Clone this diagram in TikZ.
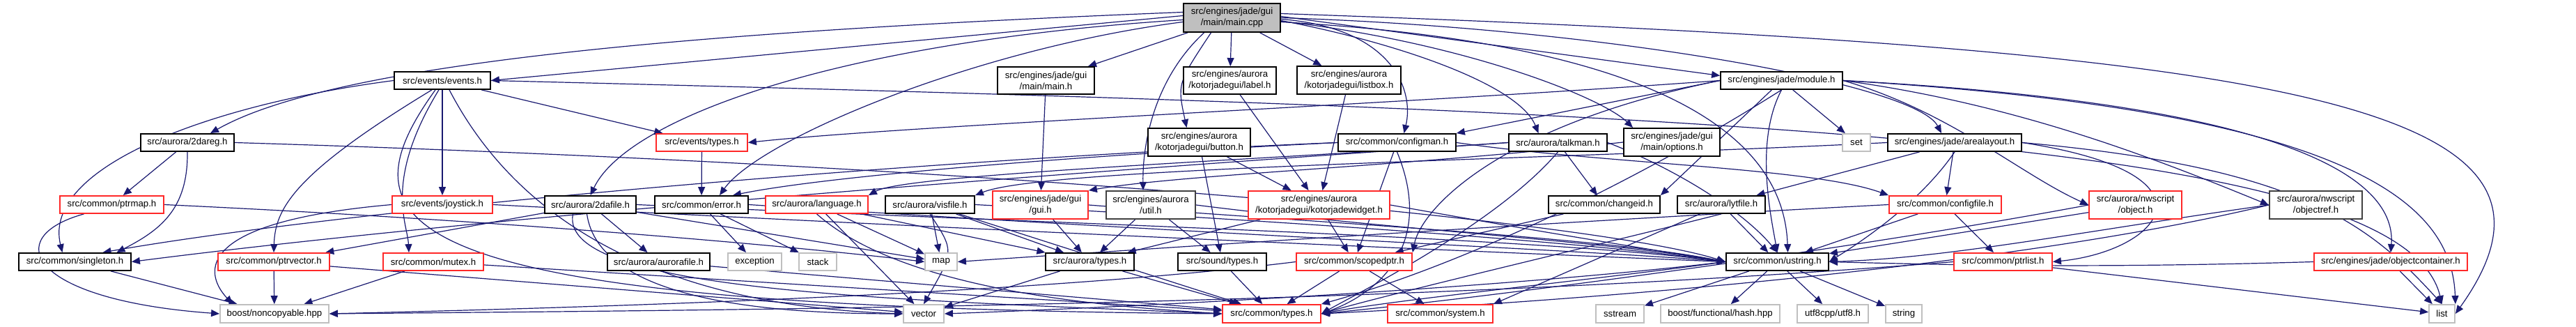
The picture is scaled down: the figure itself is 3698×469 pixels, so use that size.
\documentclass[tikz,border=0pt]{standalone}
\usepackage{fontspec}
\newfontfamily\dfont{Liberation Sans}
\usetikzlibrary{arrows.meta,calc}
\definecolor{edgeblue}{RGB}{25,25,112}
\definecolor{grey75}{RGB}{191,191,191}
\definecolor{nred}{RGB}{255,40,40}
\definecolor{dgrey}{RGB}{64,64,64}
\pgfdeclarelayer{background}
\pgfsetlayers{background,main}
\tikzset{
  nb/.style={draw=black, line width=0.9pt, fill=white, inner sep=0pt, align=center, font=\dfont\fontsize{6.6}{8}\selectfont},
  blk/.style={nb},
  dgb/.style={nb, draw=dgrey, line width=1.1pt},
  redb/.style={nb, draw=nred},
  gryb/.style={nb, draw=grey75},
  gryfill/.style={nb, fill=grey75},
  dep/.style={draw=edgeblue, line width=0.6pt, -{Triangle[length=6pt,width=5pt]}}
}
\begin{document}
\begin{tikzpicture}[x=0.5pt,y=-0.5pt]
\useasboundingbox (0,0) rectangle (3698,469);
% row 1
\node[gryfill, minimum width=69.5pt, minimum height=20.5pt] (mcpp) at (1768.5,25.5) {src/engines/jade/gui\\/main/main.cpp};
% row 2
\node[blk, minimum width=69pt, minimum height=12.5pt] (events) at (635,115.5) {src/events/events.h};
\node[blk, minimum width=69.5pt, minimum height=19.5pt] (mainh) at (1501.5,115.5) {src/engines/jade/gui\\/main/main.h};
\node[blk, minimum width=66.5pt, minimum height=19.5pt] (label) at (1765.5,115.5) {src/engines/aurora\\/kotorjadegui/label.h};
\node[blk, minimum width=74.5pt, minimum height=20pt] (listbox) at (1936.5,115) {src/engines/aurora\\/kotorjadegui/listbox.h};
\node[blk, minimum width=87.5pt, minimum height=12.5pt] (module) at (2557.5,115.5) {src/engines/jade/module.h};
% row 3
\node[blk, minimum width=67pt, minimum height=12.5pt] (dareg) at (269,204.5) {src/aurora/2dareg.h};
\node[redb, minimum width=65.5pt, minimum height=12.5pt] (evtypes) at (1007.5,204.5) {src/events/types.h};
\node[blk, minimum width=73.5pt, minimum height=20pt] (button) at (1721.5,204) {src/engines/aurora\\/kotorjadegui/button.h};
\node[blk, minimum width=84.5pt, minimum height=12.5pt] (configman) at (2005.5,204.5) {src/common/configman.h};
\node[blk, minimum width=70.5pt, minimum height=12.5pt] (talkman) at (2236.5,204.5) {src/aurora/talkman.h};
\node[blk, minimum width=69pt, minimum height=20pt] (options) at (2400,204) {src/engines/jade/gui\\/main/options.h};
\node[gryb, minimum width=20pt, minimum height=12.5pt] (set) at (2665,204.5) {set};
\node[blk, minimum width=96pt, minimum height=12.5pt] (arealayout) at (2806,204.5) {src/engines/jade/arealayout.h};
% row 4
\node[redb, minimum width=74.5pt, minimum height=12.5pt] (ptrmap) at (160.5,293.5) {src/common/ptrmap.h};
\node[redb, minimum width=72pt, minimum height=12.5pt] (joystick) at (635,293.5) {src/events/joystick.h};
\node[blk, minimum width=65.5pt, minimum height=12.5pt] (dafile) at (847.5,293.5) {src/aurora/2dafile.h};
\node[blk, minimum width=67pt, minimum height=12.5pt] (error) at (1007,293.5) {src/common/error.h};
\node[redb, minimum width=73.5pt, minimum height=12.5pt] (language) at (1172.5,293.5) {src/aurora/language.h};
\node[blk, minimum width=64pt, minimum height=12.5pt] (visfile) at (1335,293.5) {src/aurora/visfile.h};
\node[redb, minimum width=68.5pt, minimum height=20pt] (gui) at (1493.5,294) {src/engines/jade/gui\\/gui.h};
\node[dgb, minimum width=64pt, minimum height=20pt] (util) at (1652,294) {src/engines/aurora\\/util.h};
\node[redb, minimum width=101.5pt, minimum height=20pt] (widget) at (1893.5,294) {src/engines/aurora\\/kotorjadegui/kotorjadewidget.h};
\node[blk, minimum width=80pt, minimum height=12.5pt] (changeid) at (2303,293.5) {src/common/changeid.h};
\node[blk, minimum width=63pt, minimum height=12.5pt] (lytfile) at (2471,293.5) {src/aurora/lytfile.h};
\node[redb, minimum width=80.5pt, minimum height=12.5pt] (configfile) at (2792.5,293.5) {src/common/configfile.h};
\node[redb, minimum width=66.5pt, minimum height=20pt] (object) at (3065.5,294) {src/aurora/nwscript\\/object.h};
\node[dgb, minimum width=66.5pt, minimum height=20pt] (objectref) at (3324.5,294) {src/aurora/nwscript\\/objectref.h};
% row 5
\node[blk, minimum width=80.5pt, minimum height=12.5pt] (singleton) at (107.5,375.5) {src/common/singleton.h};
\node[redb, minimum width=80pt, minimum height=12.5pt] (ptrvector) at (393,375.5) {src/common/ptrvector.h};
\node[redb, minimum width=72pt, minimum height=12.5pt] (mutex) at (622,375.5) {src/common/mutex.h};
\node[blk, minimum width=73.5pt, minimum height=12.5pt] (aurorafile) at (945.5,375.5) {src/aurora/aurorafile.h};
\node[gryb, minimum width=38.5pt, minimum height=12.5pt] (exception) at (1083.5,375.5) {exception};
\node[gryb, minimum width=27pt, minimum height=12.5pt] (stack) at (1174,375.5) {stack};
\node[gryb, minimum width=23pt, minimum height=12.5pt] (map) at (1351,375.5) {map};
\node[blk, minimum width=63.5pt, minimum height=12.5pt] (atypes) at (1564.5,375.5) {src/aurora/types.h};
\node[blk, minimum width=63.5pt, minimum height=12.5pt] (stypes) at (1754.5,375.5) {src/sound/types.h};
\node[redb, minimum width=83pt, minimum height=12.5pt] (scopedptr) at (1944,375.5) {src/common/scopedptr.h};
\node[blk, minimum width=73.5pt, minimum height=12.5pt] (ustring) at (2551.5,375.5) {src/common/ustring.h};
\node[redb, minimum width=70.5pt, minimum height=12.5pt] (ptrlist) at (2875.5,375.5) {src/common/ptrlist.h};
\node[redb, minimum width=110pt, minimum height=12.5pt] (objcont) at (3432,375.5) {src/engines/jade/objectcontainer.h};
% row 6
\node[gryb, minimum width=78pt, minimum height=13pt] (noncopy) at (394,450) {boost/noncopyable.hpp};
\node[gryb, minimum width=29pt, minimum height=13pt] (vector) at (1326,450) {vector};
\node[redb, minimum width=70.5pt, minimum height=13pt] (ctypes) at (1825.5,450) {src/common/types.h};
\node[redb, minimum width=75.5pt, minimum height=13pt] (system) at (2067.5,450) {src/common/system.h};
\node[gryb, minimum width=34.5pt, minimum height=13pt] (sstream) at (2325.5,450) {sstream};
\node[gryb, minimum width=85.5pt, minimum height=13pt] (hash) at (2469.5,450) {boost/functional/hash.hpp};
\node[gryb, minimum width=51pt, minimum height=13pt] (utf8) at (2631,450) {utf8cpp/utf8.h};
\node[gryb, minimum width=26pt, minimum height=13pt] (string) at (2733,450) {string};
\node[gryb, minimum width=18.5pt, minimum height=13pt] (list) at (3505.5,450) {list};

\begin{pgfonlayer}{background}
% main.cpp
\draw[dep] ($(mcpp.west)+(0,-8)$) .. controls (1000,45) and (480,90) .. ($(dareg.north)+(33,0)$);
\draw[dep] ($(mcpp.west)+(0,-3)$) -- (events.east);
\draw[dep] ($(mcpp.west)+(0,3)$) .. controls (1200,60) and (900,170) .. (dafile.north);
\draw[dep] ($(mcpp.west)+(0,6)$) .. controls (1400,70) and (1090,200) .. ($(error.north)+(26,0)$);
\draw[dep] (mcpp) -- (mainh);
\draw[dep] (mcpp) -- (label);
\draw[dep] ($(mcpp.south)+(-30,0)$) .. controls (1690,120) .. ($(button.north)-(18,0)$);
\draw[dep] (mcpp) -- (listbox);
\draw[dep] ($(mcpp.south)+(-40,0)$) .. controls (1660,110) and (1640,200) .. ($(util.north)-(11,0)$);
\draw[dep] ($(mcpp.east)+(0,2)$) .. controls (2000,40) and (2030,130) .. ($(configman.north)+(10,0)$);
\draw[dep] ($(mcpp.east)+(0,4)$) .. controls (2000,60) and (2180,120) .. ($(talkman.north)-(28,0)$);
\draw[dep] ($(mcpp.east)+(0,5)$) .. controls (2100,60) and (2300,140) .. ($(options.north)-(56,0)$);
\draw[dep] ($(mcpp.east)+(0,-2)$) -- ($(module.west)+(0,-7)$);
\draw[dep] ($(mcpp.east)+(0,0)$) .. controls (2300,40) and (2750,120) .. ($(arealayout.north)-(19,0)$);
\draw[dep] ($(mcpp.east)+(0,6)$) .. controls (2350,60) and (2560,180) .. ($(ustring.north)+(15,0)$);
\draw[dep] ($(mcpp.east)+(0,-6)$) .. controls (3300,70) and (3740,150) .. (list.east);
% events.h
\draw[dep] (events.west) .. controls (300,150) and (60,240) .. ($(singleton.north)-(18,0)$);
\draw[dep] ($(events.south)-(15,0)$) .. controls (420,250) and (395,300) .. (ptrvector.north);
\draw[dep] ($(events.south)-(5,0)$) .. controls (550,260) and (585,320) .. ($(mutex.north)-(35,0)$);
\draw[dep] (events) -- (joystick);
\draw[dep] (events) -- (evtypes);
\draw[dep] ($(events.south)-(10,0)$) .. controls (480,330) and (560,440) .. (ctypes.west);
\draw[dep] ($(events.south)+(10,0)$) .. controls (760,350) and (1000,440) .. (vector.west);
\draw[dep] (events.east) .. controls (2500,160) and (3450,200) .. (list.north);
% 2dareg
\draw[dep] (dareg) -- (ptrmap);
\draw[dep] (dareg.south) .. controls (270,300) and (230,330) .. ($(singleton.north)+(60,0)$);
\draw[dep] (dareg.east) .. controls (1500,240) and (2300,320) .. (ustring.west);
% ptrmap
\draw[dep] ($(ptrmap.south)-(40,0)$) .. controls (0,340) and (40,430) .. (noncopy.west);
\draw[dep] (ptrmap.east) .. controls (800,320) and (1200,360) .. (map.west);
% joystick
\draw[dep] (joystick.west) .. controls (260,320) and (300,400) .. ($(noncopy.north)-(60,0)$);
\draw[dep] (joystick.east) .. controls (1400,330) and (2100,360) .. (ustring.west);
% 2dafile
\draw[dep] (dafile) -- (aurorafile);
\draw[dep] (dafile) -- (ptrvector);
\draw[dep] ($(dafile.south)-(25,0)$) .. controls (800,420) and (1300,430) .. (ctypes.west);
\draw[dep] ($(dafile.south)-(5,0)$) .. controls (860,430) and (1100,450) .. (vector.west);
\draw[dep] (dafile) -- (map);
\draw[dep] (dafile.east) .. controls (1500,320) and (2200,340) .. (ustring.west);
% aurorafile, singleton, ptrvector, mutex
\draw[dep] (aurorafile) -- (ctypes);
\draw[dep] (singleton) -- (noncopy);
\draw[dep] (ptrvector) -- (noncopy);
\draw[dep] (ptrvector) -- (vector);
\draw[dep] (mutex) -- (noncopy);
\draw[dep] (mutex) -- (ctypes);
% events/types, error
\draw[dep] (evtypes) -- (error);
\draw[dep] (error) -- (exception);
\draw[dep] (error) -- (stack);
\draw[dep] (error.east) .. controls (1800,340) and (2300,360) .. (ustring.west);
% language
\draw[dep] (language) -- (map);
\draw[dep] (language) -- (vector);
\draw[dep] (language) -- (atypes);
\draw[dep] (language.south) .. controls (1300,420) and (1600,440) .. (ctypes.west);
% visfile
\draw[dep] (visfile) -- (map);
\draw[dep] (visfile.south) .. controls (1370,360) .. (vector.north);
\draw[dep] (visfile) -- (atypes);
\draw[dep] (visfile) -- (ctypes);
\draw[dep] (visfile.east) .. controls (1900,320) and (2300,350) .. (ustring.west);
% gui, util, widget
\draw[dep] (gui) -- (atypes);
\draw[dep] (gui.east) .. controls (1900,320) and (2300,340) .. (ustring.west);
\draw[dep] (util) -- (atypes);
\draw[dep] (util) -- (stypes);
\draw[dep] (util.east) .. controls (2000,330) and (2300,345) .. (ustring.west);
\draw[dep] (widget) -- (atypes);
\draw[dep] (widget) -- (scopedptr);
\draw[dep] (widget.east) .. controls (2200,330) .. (ustring.west);
% button, label, listbox, main.h, options
\draw[dep] (button) -- (stypes);
\draw[dep] (button) -- (widget);
\draw[dep] (label) -- (widget);
\draw[dep] (listbox) -- (widget);
\draw[dep] (mainh) -- (gui);
\draw[dep] (options.west) .. controls (2000,240) and (1700,250) .. (gui.north east);
% configman
\draw[dep] (configman.west) .. controls (1600,220) and (1200,250) .. ($(error.north)+(45,0)$);
\draw[dep] (configman.west) .. controls (1300,230) and (500,300) .. ($(singleton.north)+(40,0)$);
\draw[dep] (configman) -- (scopedptr);
\draw[dep] (configman.south) .. controls (2060,350) and (1980,420) .. (ctypes.east);
\draw[dep] (configman.east) .. controls (2300,235) and (2600,240) .. (configfile.north west);
% talkman
\draw[dep] (talkman.west) .. controls (1800,230) and (1300,250) .. (language.north east);
\draw[dep] (talkman) -- (changeid);
\draw[dep] (talkman.west) .. controls (1500,250) and (700,310) .. (singleton.east);
\draw[dep] (talkman.east) .. controls (2400,240) and (2500,300) .. (ustring.north);
\draw[dep] (talkman.south) .. controls (2150,320) and (1950,420) .. (ctypes.east);
% module
\draw[dep] (module.west) .. controls (2000,150) and (1300,180) .. (evtypes.east);
\draw[dep] (module.west) -- (configman.north east);
\draw[dep] (module) -- (set);
\draw[dep] (module) -- (changeid.north east);
\draw[dep] (module.west) .. controls (2150,180) and (2040,300) .. (scopedptr.north east);
\draw[dep] (module.south) .. controls (2520,200) and (2540,300) .. (ustring.north);
\draw[dep] (module.east) .. controls (3300,150) and (3440,260) .. (objcont.north);
\draw[dep] (module.east) .. controls (3400,160) and (3520,300) .. (list.north east);
\draw[dep] (module.east) .. controls (2800,160) and (2900,250) .. (object.west);
\draw[dep] (module.east) .. controls (2900,150) and (3100,230) .. (objectref.west);
\draw[dep] (module.south) .. controls (2350,260) and (2100,380) .. (ctypes.north east);
% arealayout
\draw[dep] (arealayout) -- (lytfile);
\draw[dep] (arealayout.west) .. controls (2200,230) and (1500,240) .. (visfile.north east);
\draw[dep] (arealayout) -- (configfile);
\draw[dep] (arealayout.south) .. controls (2750,300) and (2650,360) .. (ustring.east);
\draw[dep] (arealayout.east) .. controls (3300,240) and (3400,320) .. (list.north);
\draw[dep] (arealayout.east) .. controls (3200,250) and (3100,360) .. (ptrlist.east);
% changeid, lytfile, configfile
\draw[dep] (changeid) -- (scopedptr);
\draw[dep] (lytfile) -- (ustring);
\draw[dep] (lytfile.south) .. controls (2300,350) and (2000,420) .. (ctypes.east);
\draw[dep] (lytfile) -- (system.north east);
\draw[dep] (configfile) -- (ptrlist);
\draw[dep] (configfile) -- (ustring);
\draw[dep] (configfile.west) .. controls (2200,320) and (1600,360) .. (map.east);
% object, objectref
\draw[dep] (object) -- (ustring);
\draw[dep] (object.west) .. controls (2700,350) and (2200,420) .. (ctypes.east);
\draw[dep] (objectref.west) .. controls (2900,380) and (2300,430) .. (ctypes.east);
\draw[dep] (objectref.west) .. controls (3000,330) and (2800,370) .. (ustring.east);
% scopedptr
\draw[dep] (scopedptr) -- (ctypes);
\draw[dep] (scopedptr) -- (system);
\draw[dep] (scopedptr.west) .. controls (1500,420) and (900,440) .. (noncopy.east);
% ustring
\draw[dep] (ustring) -- (sstream);
\draw[dep] (ustring) -- (hash);
\draw[dep] (ustring) -- (utf8);
\draw[dep] (ustring) -- (string);
\draw[dep] (ustring.west) .. controls (2300,400) and (2000,430) .. (ctypes.east);
\draw[dep] (ustring.west) .. controls (2100,420) and (1500,445) .. (vector.east);
% ptrlist, objectcontainer
\draw[dep] (ptrlist) -- (list);
\draw[dep] (ptrlist.west) .. controls (2000,440) and (1000,445) .. (noncopy.east);
\draw[dep] (objcont) -- (list);
\draw[dep] (objcont.west) .. controls (3000,385) and (2800,380) .. (ustring.east);
% types
\draw[dep] (atypes) -- (ctypes);
\draw[dep] (atypes) -- (vector);
\draw[dep] (stypes) -- (ctypes);
\end{pgfonlayer}
\end{tikzpicture}
\end{document}
